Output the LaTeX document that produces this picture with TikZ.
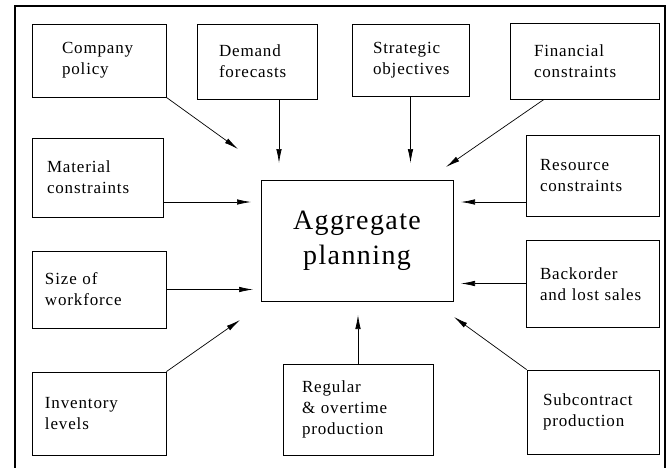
\documentclass[tikz,border=0pt]{standalone}
\usepackage{fontspec}
\setmainfont{Liberation Serif}
\newfontfamily\boxfont[LetterSpace=5]{Liberation Serif}
\usepackage{tikz}
\usetikzlibrary{arrows.meta}

\tikzset{
  factor/.style={draw,line width=0.8pt,align=left,font=\boxfont\fontsize{17}{21}\selectfont,
    inner ysep=0pt},
  feed/.style={line width=0.7pt,-{Latex[length=14pt,width=5.5pt]}}
}

\begin{document}
\begin{tikzpicture}[x=1pt,y=-1pt]
  \useasboundingbox[fill=white] (0,0) rectangle (670,467);
  % outer frame, open at the bottom
  \draw[line width=1.8pt] (15,470) -- (15,6) -- (665,6) -- (665,470);

  \node[draw,line width=0.8pt,minimum width=192pt,minimum height=121pt,align=center,
    font=\boxfont\fontsize{28}{35}\selectfont] (agg) at (357,240.5) {Aggregate\\planning};

  \node[factor,inner xsep=30pt,text width=74pt,minimum height=73pt] (comp)
    at (99,60.5) {Company\\policy};
  \node[factor,inner xsep=22pt,text width=76pt,minimum height=75pt] (dem)
    at (257,61.5) {Demand\\forecasts};
  \node[factor,inner xsep=21pt,text width=75pt,minimum height=72pt] (strat)
    at (410.5,60) {Strategic\\objectives};
  \node[factor,inner xsep=24pt,text width=101pt,minimum height=76pt] (fin)
    at (584.5,61) {Financial\\constraints};
  \node[factor,inner xsep=15pt,text width=101pt,minimum height=79pt] (mat)
    at (97.5,177.5) {Material\\constraints};
  \node[factor,inner xsep=14pt,text width=105pt,minimum height=81pt] (res)
    at (592.5,175.5) {Resource\\constraints};
  \node[factor,inner xsep=13pt,text width=108pt,minimum height=77pt] (size)
    at (99,289.5) {Size of\\workforce};
  \node[factor,inner xsep=14pt,text width=105pt,minimum height=87pt,text depth=20pt] (back)
    at (592.5,283.5) {Backorder\\and lost sales};
  \node[factor,inner xsep=13pt,text width=108pt,minimum height=83pt] (inv)
    at (99,413.5) {Inventory\\levels};
  \node[factor,inner xsep=19pt,text width=112pt,minimum height=91pt] (reg)
    at (358,409.5) {Regular\\\&\ overtime\\production};
  \node[factor,inner xsep=16pt,text width=100pt,minimum height=84pt] (sub)
    at (593,412) {Subcontract\\production};

  % free arrow tips around the centre box
  \coordinate (tcomp) at (238,149);
  \coordinate (tdem) at (279,163);
  \coordinate (tstrat) at (410.5,163);
  \coordinate (tfin) at (446,167);
  \coordinate (tmat) at (251,202);
  \coordinate (tres) at (461,202);
  \coordinate (tsize) at (253,289.5);
  \coordinate (tback) at (461,283.5);
  \coordinate (tinv) at (240,320);
  \coordinate (treg) at (358,315);
  \coordinate (tsub) at (454,317);

  \draw[feed] (comp.south east) -- (tcomp);
  \draw[feed] ([xshift=22pt]dem.south) -- (tdem);
  \draw[feed] (strat.south) -- (tstrat);
  \draw[feed] ([xshift=-40.5pt]fin.south) -- (tfin);
  \draw[feed] ([yshift=-24.5pt]mat.east) -- (tmat);
  \draw[feed] ([yshift=-26.5pt]res.west) -- (tres);
  \draw[feed] (size.east) -- (tsize);
  \draw[feed] (back.west) -- (tback);
  \draw[feed] (inv.north east) -- (tinv);
  \draw[feed] (reg.north) -- (treg);
  \draw[feed] (sub.north west) -- (tsub);
\end{tikzpicture}
\end{document}
